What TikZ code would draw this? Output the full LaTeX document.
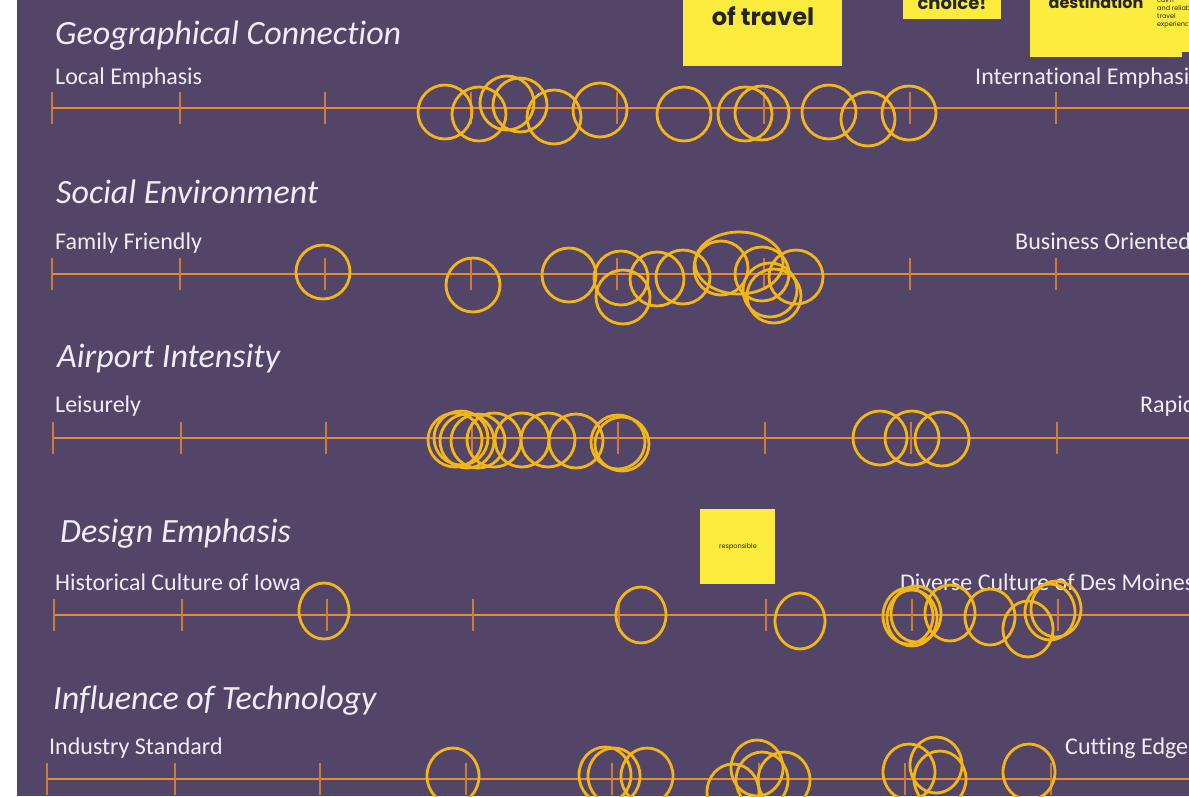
\documentclass[tikz,border=0pt]{standalone}
\usepackage{fontspec}
\setmainfont{Carlito}[Ligatures=NoCommon]
\newfontfamily\notefont{Poppins}
\usepackage{xcolor}
\usepackage{tikz}

\definecolor{slatebg}{RGB}{83,69,104}
\definecolor{scaleline}{RGB}{233,138,46}
\definecolor{votegold}{RGB}{242,181,26}
\definecolor{sticky}{RGB}{250,235,60}
\definecolor{slatetext}{RGB}{240,236,244}

\begin{document}
\begin{tikzpicture}[x=1pt, y=-1pt,
    title/.style={anchor=base west, inner sep=0pt, text=slatetext, font=\fontsize{34}{38}\selectfont\itshape},
    pole/.style={anchor=base west, inner sep=0pt, text=slatetext, font=\fontsize{24}{27}\selectfont},
    scale line/.style={draw=scaleline, line width=1.6pt},
    scaletick/.style={draw=scaleline!80!slatebg, line width=1.2pt},
    votering/.style={draw=votegold, line width=2.8pt},
    note/.style={fill=sticky},
    note text/.style={inner sep=0pt, text=black!85, font=\notefont\bfseries}]
    \useasboundingbox (0,0) rectangle (1189,796);
    \clip (0,0) rectangle (1189,796);
    \fill[white] (0,0) rectangle (17,796);
    \fill[slatebg] (17,0) rectangle (1189,796);

    % sticky notes
    \fill[note] (683,0) rectangle (842,66);
    \node[note text, anchor=base, font=\notefont\bfseries\fontsize{24}{26}\selectfont] (travel) at (763,25) {of travel};
    \fill[note] (903,0) rectangle (1001,19);
    \node[note text, anchor=base, font=\notefont\bfseries\fontsize{18}{20}\selectfont] (choice) at (952,9) {choice!};
    \fill[note] (1030,0) rectangle (1182,57);
    \fill[note] (1150,0) rectangle (1189,52);
    \node[note text, anchor=base, font=\notefont\bfseries\fontsize{16}{18}\selectfont] (dest) at (1096,8) {destination};
    \node[note text, anchor=north west, align=left, font=\notefont\fontsize{6.5}{8}\selectfont] (calm) at (1157,-3) {calm\\and reliable\\travel\\experience};
    \fill[note] (700,509) rectangle (775,584);
    \node[note text, font=\notefont\fontsize{6.5}{8}\selectfont] (resp) at (738,547) {responsible};

    % row labels
    \node[title] (geo) at (55,44) {Geographical Connection};
    \node[pole] (geoL) at (55,84) {Local Emphasis};
    \node[pole] (geoR) at (975,84) {International Emphasis};
    \node[title] (soc) at (56,203) {Social Environment};
    \node[pole] (socL) at (55,249) {Family Friendly};
    \node[pole] (socR) at (1015,249) {Business Oriented};
    \node[title] (air) at (57,367) {Airport Intensity};
    \node[pole] (airL) at (55,412) {Leisurely};
    \node[pole] (airR) at (1140,412) {Rapid};
    \node[title] (des) at (60,542) {Design Emphasis};
    \node[pole] (desL) at (55,590) {Historical Culture of Iowa};
    \node[pole] (desR) at (900,590) {Diverse Culture of Des Moines};
    \node[title] (tech) at (53,709) {Influence of Technology};
    \node[pole] (techL) at (49,754) {Industry Standard};
    \node[pole] (techR) at (1065,754) {Cutting Edge};

    % scales
    \foreach \n/\y/\s in {geo/108/0, soc/274/0, air/438/1, des/615/2, tech/779/-5} {
        \coordinate (\n A) at (52+\s,\y);
        \coordinate (\n B) at (1200,\y);
        \draw[scale line] (\n A) -- (\n B);
        \foreach \t in {52,180,325,471,617,764,910,1056}
            \draw[scaletick] (\t+\s,\y-16) -- (\t+\s,\y+16);
    }

    % votes
    \foreach \x/\y in {445/112, 479/114, 507/103, 520/105, 554/117, 600/110, 684/114, 745/114, 762/113, 829/112, 868/119, 909/113}
        \draw[votering] (\x,\y) circle[radius=27];
    \foreach \x/\y in {323/272, 473/285, 569/275, 621/278, 623/297, 657/279, 683/277, 721/268, 762/274, 770/290, 774/296, 796/277}
        \draw[votering] (\x,\y) circle[radius=27];
    \draw[votering] (739,263) ellipse[x radius=44, y radius=31];
    \foreach \x/\y in {455/440, 461/438, 467/441, 478/441, 494/440, 522/440, 548/440, 576/441, 618/442, 622/444, 880/438, 912/438, 942/439}
        \draw[votering] (\x,\y) circle[radius=27];
    \foreach \x/\y in {324/611, 641/615, 800/621, 908/616, 912/618, 916/614, 950/613, 990/617, 1028/629, 1056/609, 1050/612}
        \draw[votering] (\x,\y) ellipse[x radius=25, y radius=28];
    \foreach \x/\y in {453/776, 605/775, 614/776, 647/776, 733/792, 757/768, 762/780, 784/780, 909/772, 936/765, 940/779, 1029/772}
        \draw[votering] (\x,\y) ellipse[x radius=26, y radius=28];
\end{tikzpicture}
\end{document}
